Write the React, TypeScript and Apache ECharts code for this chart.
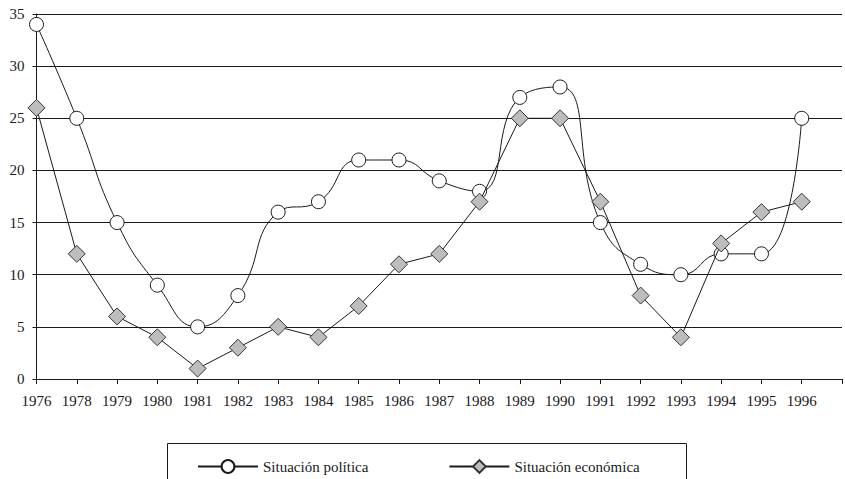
import React, { useEffect, useRef } from "react";
import * as echarts from "echarts";

// Years on the category axis (1977 is not surveyed); the trailing blank slot
// carries the grid lines out to the right edge.
const years = [
  "1976", "1978", "1979", "1980", "1981", "1982", "1983", "1984", "1985", "1986",
  "1987", "1988", "1989", "1990", "1991", "1992", "1993", "1994", "1995", "1996", "",
];

const situacionPolitica = [34, 25, 15, 9, 5, 8, 16, 17, 21, 21, 19, 18, 27, 28, 15, 11, 10, 12, 12, 25];
const situacionEconomica = [26, 12, 6, 4, 1, 3, 5, 4, 7, 11, 12, 17, 25, 25, 17, 8, 4, 13, 16, 17];

const yTicks = { min: 0, max: 35, interval: 5 };

const FONT = "Liberation Serif";
const INK = "#1a1a1a";

export default function App() {
  const ref = useRef<HTMLDivElement>(null);

  useEffect(() => {
    if (!ref.current) return;
    const chart = echarts.init(ref.current, null, { renderer: "svg" });
    chart.setOption({
      animation: false,
      backgroundColor: "#ffffff",
      textStyle: { fontFamily: FONT, color: INK },
      grid: { left: 36.5, right: -3.5, top: 14, bottom: 100, containLabel: false },
      xAxis: {
        type: "category",
        data: years,
        boundaryGap: false,
        axisLine: { lineStyle: { color: INK, width: 1 } },
        axisTick: { show: true, length: 5, lineStyle: { color: INK }, interval: 0 },
        axisLabel: { interval: 0, fontFamily: FONT, fontSize: 15, color: INK, margin: 14 },
        splitLine: { show: false },
      },
      yAxis: {
        type: "value",
        min: yTicks.min,
        max: yTicks.max,
        interval: yTicks.interval,
        axisLine: { show: true, lineStyle: { color: INK, width: 1 } },
        axisTick: { show: true, length: 4, lineStyle: { color: INK } },
        axisLabel: { fontFamily: FONT, fontSize: 15, color: INK, margin: 12 },
        splitLine: { show: true, lineStyle: { color: INK, width: 1 } },
      },
      legend: {
        left: 192,
        top: 454,
        itemWidth: 60,
        itemHeight: 16,
        itemGap: 80,
        textStyle: { fontFamily: FONT, fontSize: 15, color: INK },
        data: ["Situación política", "Situación económica"],
      },
      graphic: [
        {
          type: "rect",
          shape: { x: 167.5, y: 443.5, width: 519, height: 60 },
          style: { fill: "none", stroke: INK, lineWidth: 1 },
          silent: true,
        },
      ],
      series: [
        {
          name: "Situación política",
          type: "line",
          data: situacionPolitica,
          smooth: 0.5,
          symbol: "circle",
          symbolSize: 14,
          showAllSymbol: true,
          lineStyle: { color: INK, width: 1 },
          itemStyle: { color: "#ffffff", borderColor: INK, borderWidth: 1 },
          z: 2,
        },
        {
          name: "Situación económica",
          type: "line",
          data: situacionEconomica,
          smooth: false,
          symbol: "diamond",
          symbolSize: 17,
          showAllSymbol: true,
          lineStyle: { color: INK, width: 1 },
          itemStyle: { color: "#bdbdbd", borderColor: "#333333", borderWidth: 1 },
          z: 3,
        },
      ],
    });
    return () => chart.dispose();
  }, []);

  return (
    <div
      ref={ref}
      style={{ position: "fixed", left: 0, top: 0, width: 845, height: 479, background: "#fff" }}
    />
  );
}
